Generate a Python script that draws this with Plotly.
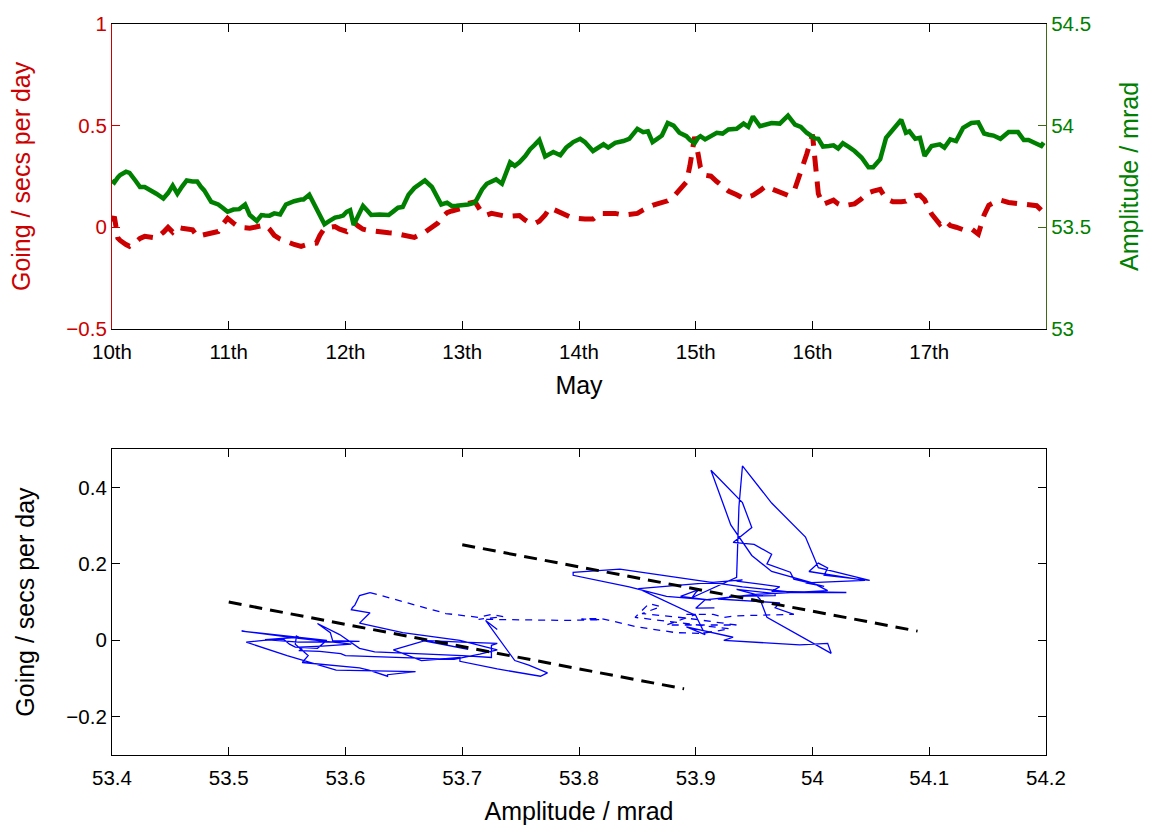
import plotly.graph_objects as go

# Sample times (days of May) and the two measured series
time_days = [
    10.00, 10.02, 10.05, 10.07, 10.12, 10.15, 10.20, 10.24, 10.28, 10.34, 10.38, 10.44,
    10.48, 10.52, 10.56, 10.60, 10.64, 10.69, 10.73, 10.76, 10.79, 10.85, 10.91, 10.95,
    10.99, 11.04, 11.09, 11.14, 11.18, 11.24, 11.28, 11.31, 11.35, 11.39, 11.44, 11.49,
    11.52, 11.56, 11.62, 11.64, 11.69, 11.75, 11.78, 11.82, 11.86, 11.91, 11.95, 11.98,
    12.01, 12.04, 12.07, 12.11, 12.15, 12.19, 12.22, 12.29, 12.37, 12.41, 12.45, 12.49,
    12.54, 12.59, 12.64, 12.68, 12.74, 12.79, 12.82, 12.87, 12.91, 12.95, 12.99, 13.05,
    13.11, 13.17, 13.21, 13.25, 13.29, 13.34, 13.39, 13.41, 13.45, 13.49, 13.54, 13.58,
    13.62, 13.66, 13.71, 13.75, 13.78, 13.84, 13.89, 13.92, 13.95, 14.01, 14.05, 14.12,
    14.18, 14.21, 14.25, 14.31, 14.38, 14.43, 14.50, 14.55, 14.59, 14.63, 14.67, 14.71,
    14.76, 14.81, 14.86, 14.92, 14.95, 14.99, 15.02, 15.04, 15.08, 15.13, 15.18, 15.23,
    15.28, 15.35, 15.41, 15.45, 15.49, 15.55, 15.60, 15.65, 15.72, 15.79, 15.85, 15.90,
    15.95, 16.00, 16.02, 16.05, 16.09, 16.14, 16.18, 16.22, 16.26, 16.31, 16.36, 16.42,
    16.48, 16.52, 16.58, 16.63, 16.69, 16.76, 16.80, 16.83, 16.88, 16.92, 16.96, 17.02,
    17.09, 17.13, 17.18, 17.23, 17.29, 17.36, 17.42, 17.47, 17.51, 17.55, 17.61, 17.68,
    17.76, 17.81, 17.85, 17.92, 17.96, 17.98,
]

amplitude_mrad = [
    53.730, 53.720, 53.745, 53.757, 53.773, 53.767, 53.730, 53.698, 53.698, 53.681, 53.665, 53.641,
    53.668, 53.705, 53.665, 53.700, 53.730, 53.725, 53.725, 53.700, 53.681, 53.625, 53.612, 53.595,
    53.576, 53.587, 53.589, 53.612, 53.560, 53.531, 53.560, 53.558, 53.557, 53.568, 53.563, 53.612,
    53.620, 53.628, 53.636, 53.636, 53.660, 53.592, 53.550, 53.515, 53.530, 53.547, 53.552, 53.557,
    53.576, 53.584, 53.511, 53.560, 53.605, 53.580, 53.560, 53.563, 53.560, 53.578, 53.596, 53.600,
    53.660, 53.693, 53.715, 53.730, 53.698, 53.649, 53.612, 53.621, 53.605, 53.606, 53.608, 53.612,
    53.621, 53.686, 53.714, 53.725, 53.735, 53.714, 53.790, 53.819, 53.802, 53.819, 53.850, 53.883,
    53.905, 53.929, 53.848, 53.860, 53.870, 53.854, 53.892, 53.905, 53.919, 53.935, 53.919, 53.875,
    53.900, 53.908, 53.892, 53.915, 53.924, 53.935, 53.984, 53.968, 53.972, 53.919, 53.935, 53.951,
    54.013, 54.000, 53.965, 53.948, 53.930, 53.913, 53.940, 53.948, 53.932, 53.950, 53.965, 53.961,
    53.981, 53.984, 54.010, 53.994, 54.045, 53.997, 54.005, 54.013, 54.010, 54.049, 54.005, 53.994,
    53.965, 53.940, 53.937, 53.935, 53.897, 53.900, 53.903, 53.887, 53.913, 53.895, 53.875, 53.843,
    53.795, 53.795, 53.835, 53.940, 53.984, 54.029, 53.965, 53.972, 53.935, 53.940, 53.851, 53.900,
    53.908, 53.892, 53.932, 53.924, 53.989, 54.013, 54.016, 53.961, 53.955, 53.951, 53.935, 53.968,
    53.968, 53.929, 53.929, 53.908, 53.900, 53.916,
]

going_s_per_day = [
    0.028, 0.052, -0.053, -0.065, -0.085, -0.094, -0.075, -0.055, -0.045, -0.050, -0.053, -0.025,
    -0.001, -0.024, 0.000, -0.005, -0.008, -0.013, -0.045, -0.040, -0.037, -0.030, -0.021, 0.015,
    0.044, 0.020, -0.001, -0.003, -0.005, 0.002, 0.008, 0.011, -0.010, -0.040, -0.058, -0.072,
    -0.078, -0.085, -0.094, -0.090, -0.082, -0.078, -0.040, -0.005, 0.000, 0.003, -0.010, -0.018,
    -0.021, 0.000, 0.024, 0.005, -0.010, -0.015, -0.018, -0.024, -0.027, -0.029, -0.035, -0.040,
    -0.047, -0.050, -0.036, -0.025, 0.000, 0.020, 0.045, 0.072, 0.080, 0.086, 0.092, 0.117,
    0.125, 0.070, 0.060, 0.068, 0.062, 0.055, 0.052, 0.054, 0.056, 0.057, 0.035, 0.020,
    0.018, 0.030, 0.060, 0.096, 0.088, 0.070, 0.058, 0.052, 0.046, 0.040, 0.040, 0.040,
    0.068, 0.068, 0.068, 0.068, 0.060, 0.064, 0.068, 0.085, 0.098, 0.108, 0.115, 0.120,
    0.130, 0.150, 0.180, 0.222, 0.302, 0.445, 0.360, 0.295, 0.256, 0.251, 0.225, 0.200,
    0.178, 0.160, 0.141, 0.150, 0.157, 0.180, 0.202, 0.189, 0.170, 0.157, 0.190, 0.270,
    0.359, 0.456, 0.350, 0.165, 0.112, 0.125, 0.133, 0.115, 0.105, 0.110, 0.115, 0.140,
    0.170, 0.178, 0.186, 0.140, 0.125, 0.125, 0.128, 0.140, 0.155, 0.158, 0.135, 0.065,
    0.015, 0.035, 0.008, 0.000, -0.012, -0.008, -0.034, 0.060, 0.108, 0.120, 0.133, 0.122,
    0.117, 0.115, 0.113, 0.106, 0.084, 0.085,
]

# Period drawn dashed in the scatter panel (start/end days)
dashed_period = (13.11, 14.50)

# Straight-line fits (amplitude endpoints, going endpoints)
fit_low_amp = [53.50, 53.89]
fit_low_going = [0.100, -0.127]
fit_high_amp = [53.70, 54.09]
fit_high_going = [0.250, 0.024]

day_ticks = [10, 11, 12, 13, 14, 15, 16, 17]
day_labels = ["10th", "11th", "12th", "13th", "14th", "15th", "16th", "17th"]
going_ticks_top = [-0.5, 0, 0.5, 1]
going_labels_top = ["\u22120.5", "0", "0.5", "1"]
amp_ticks = [53, 53.5, 54, 54.5]
amp_labels = ["53", "53.5", "54", "54.5"]
amp_ticks_bottom = [53.4, 53.5, 53.6, 53.7, 53.8, 53.9, 54.0, 54.1, 54.2]
amp_labels_bottom = ["53.4", "53.5", "53.6", "53.7", "53.8", "53.9", "54", "54.1", "54.2"]
going_ticks_bottom = [-0.2, 0, 0.2, 0.4]
going_labels_bottom = ["\u22120.2", "0", "0.2", "0.4"]

RED = "#cc0000"
GREEN = "#008000"
GREEN_AXIS = "#3f6a14"
BLUE = "#0000ff"
FONT = "Liberation Sans, Arial, sans-serif"
FS = 20.5

fig = go.Figure()

# --- top panel: time series on two y axes
fig.add_trace(go.Scatter(
    x=time_days, y=going_s_per_day, mode="lines",
    line=dict(color=RED, width=5, dash="16px,10px"),
    xaxis="x", yaxis="y", showlegend=False,
))
fig.add_trace(go.Scatter(
    x=time_days, y=amplitude_mrad, mode="lines",
    line=dict(color=GREEN, width=4.5),
    xaxis="x", yaxis="y2", showlegend=False,
))

# --- bottom panel: going against amplitude, split into three periods
i0 = next(i for i, t in enumerate(time_days) if t >= dashed_period[0])
i1 = next(i for i, t in enumerate(time_days) if t >= dashed_period[1])
segments = [
    (slice(0, i0 + 1), "solid"),
    (slice(i0, i1 + 1), "7px,6px"),
    (slice(i1, len(time_days)), "solid"),
]
for sl, dash in segments:
    fig.add_trace(go.Scatter(
        x=amplitude_mrad[sl], y=going_s_per_day[sl], mode="lines",
        line=dict(color=BLUE, width=1.3, dash=dash),
        xaxis="x2", yaxis="y3", showlegend=False,
    ))

for fx, fy in [(fit_low_amp, fit_low_going), (fit_high_amp, fit_high_going)]:
    fig.add_trace(go.Scatter(
        x=fx, y=fy, mode="lines",
        line=dict(color="black", width=3, dash="13px,8px"),
        xaxis="x2", yaxis="y3", showlegend=False,
    ))

top_dom = [0.583, 1.0]
bot_dom = [0.0, 0.4184]

axis_common = dict(showgrid=False, zeroline=False, ticks="inside", ticklen=8,
                   showline=True, linewidth=1.2)

fig.update_layout(
    width=1151, height=832,
    margin=dict(l=112, r=104, t=18, b=73),
    paper_bgcolor="white", plot_bgcolor="white",
    font=dict(family=FONT, size=FS, color="black"),
    xaxis=dict(
        **axis_common, domain=[0, 1], anchor="y", range=[10, 18],
        tickvals=day_ticks, ticktext=day_labels, ticklabelstandoff=4,
        linecolor="black", tickcolor="black", mirror="ticks",
        title=dict(text="May", standoff=14),
    ),
    yaxis=dict(
        **axis_common, domain=top_dom, anchor="x", range=[-0.5, 1],
        tickvals=going_ticks_top, ticktext=going_labels_top,
        linecolor=RED, tickcolor=RED, tickfont=dict(color=RED),
        title=dict(text="Going / secs per day", font=dict(color=RED), standoff=28),
    ),
    yaxis2=dict(
        **axis_common, overlaying="y", side="right", anchor="x", range=[53, 54.5],
        tickvals=amp_ticks, ticktext=amp_labels,
        linecolor=GREEN_AXIS, tickcolor=GREEN_AXIS, tickfont=dict(color=GREEN),
        title=dict(text="Amplitude / mrad", font=dict(color=GREEN), standoff=30),
    ),
    xaxis2=dict(
        **axis_common, domain=[0, 1], anchor="y3", range=[53.4, 54.2],
        tickvals=amp_ticks_bottom, ticktext=amp_labels_bottom, ticklabelstandoff=4,
        linecolor="black", tickcolor="black", mirror="ticks",
        title=dict(text="Amplitude / mrad", standoff=14),
    ),
    yaxis3=dict(
        **axis_common, domain=bot_dom, anchor="x2", range=[-0.3, 0.5],
        tickvals=going_ticks_bottom, ticktext=going_labels_bottom,
        linecolor="black", tickcolor="black", mirror="ticks",
        title=dict(text="Going / secs per day", standoff=24),
    ),
)

fig.write_html("out.html")
